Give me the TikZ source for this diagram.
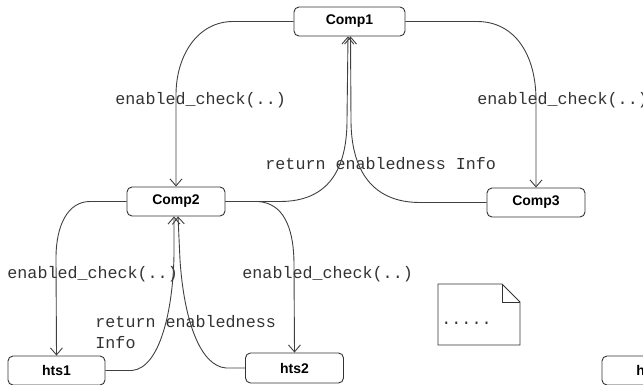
\documentclass[tikz,border=0pt]{standalone}
\usepackage{fontspec}
\setmainfont{Liberation Sans}
\newfontfamily\monofam{Liberation Mono}
\usetikzlibrary{arrows.meta}

\begin{document}
\begin{tikzpicture}[x=1pt, y=-1pt, line width=0.9pt,
  comp/.style={draw=black!80, rounded corners=5pt, minimum height=29pt, minimum width=98pt, inner sep=0pt, font=\fontsize{14}{16}\selectfont\bfseries},
  msg/.style={anchor=west, inner sep=0pt, font=\fontsize{16.7}{21}\selectfont\monofam, text=black!80, align=left},
  flow/.style={draw=black!75, -{Straight Barb[length=7pt,width=12pt]}}]
\useasboundingbox (0,0) rectangle (643,385);

\node[comp, minimum width=111pt] (c1) at (349.5,21.5) {Comp1};
\node[comp] (c2) at (176,201.5) {Comp2};
\node[comp] (c3) at (536,202.5) {Comp3};
\node[comp, minimum width=97pt] (h1) at (56.5,370.5) {hts1};
\node[comp, minimum height=30pt] (h2) at (294.5,368) {hts2};
\node[comp, minimum width=97pt] (h3) at (650.5,370.5) {};
\node[anchor=west, inner sep=0pt, font=\fontsize{14}{16}\selectfont\bfseries] (h3txt) at (636,370.5) {h};

% note
\draw[black!80] (438,284) -- (502,284) -- (520,302) -- (520,345) -- (438,345) -- cycle;
\draw[black!80] (502,284) -- (502,302) -- (520,302);
\node[msg] (dots) at (441,323) {.....};

\node[msg] (l1) at (115,100) {enabled\_check(..)};
\node[msg] (l2) at (265,164) {return enabledness Info};
\node[msg] (l3) at (477,100) {enabled\_check(..)};
\node[msg] (l4) at (7,274) {enabled\_check(..)};
\node[msg] (l5) at (242,274) {enabled\_check(..)};
\node[msg] (l6) at (95,332.5) {return enabledness\\Info};

\draw[flow] (c1.west) -- (233,21.5) .. controls (198,21.5) and (176,55) .. (176,95) -- (c2.north);
\draw[flow] (c2.east) -- (280,201.5) .. controls (328,201.5) and (347,170) .. (347,120) -- ([xshift=-1.5pt]c1.south);
\draw[flow] (c1.east) -- (477,21.5) .. controls (515,21.5) and (536,55) .. (536,100) -- (c3.north);
\draw[flow] (c3.west) -- (420,202.5) .. controls (372,202.5) and (351,170) .. (351,120) -- ([xshift=1pt]c1.south);
\draw[flow] (c2.west) -- (90,201.5) .. controls (68,201.5) and (56,225) .. (56,258) -- (h1.north);
\draw[flow] (h1.east) -- (132,370.5) .. controls (160,368) and (173,310) .. (174,255) -- ([xshift=-2pt]c2.south);
\draw[flow] (c2.east) -- (258,201.5) .. controls (282,203) and (294,225) .. (294,265) -- (h2.north);
\draw[flow] (h2.west) -- (226,368) .. controls (200,366) and (184,320) .. (180,260) -- ([xshift=2pt]c2.south);
\end{tikzpicture}
\end{document}
